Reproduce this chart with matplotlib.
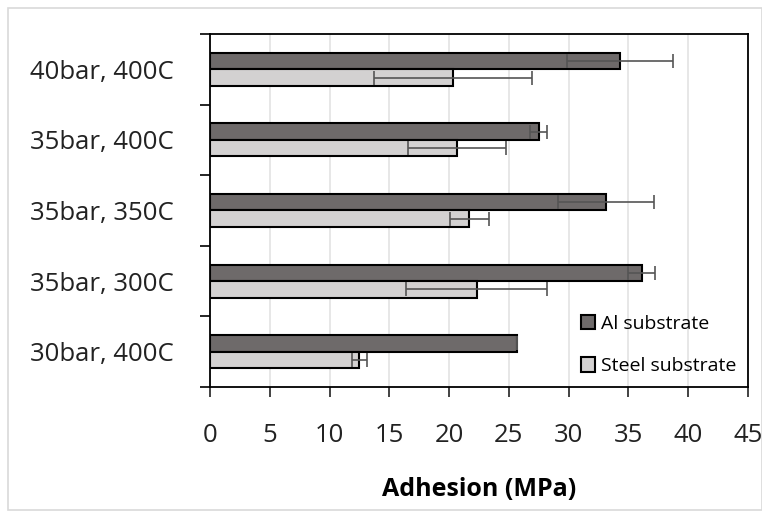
import matplotlib
matplotlib.use('Agg')
import matplotlib.pyplot as plt
from matplotlib.patches import Rectangle
import numpy as np

plt.rcParams['font.family'] = ['Open Sans', 'DejaVu Sans']

# bottom to top
conditions = ['30bar, 400C', '35bar, 300C', '35bar, 350C', '35bar, 400C', '40bar, 400C']
al_mean = [25.7, 36.1, 33.1, 27.5, 34.3]
al_err = [0.0, 1.1, 4.0, 0.7, 4.4]
steel_mean = [12.5, 22.3, 21.7, 20.7, 20.3]
steel_err = [0.6, 5.9, 1.6, 4.1, 6.6]

fig = plt.figure(figsize=(7.62, 5.18), dpi=100)
ax = fig.add_axes([210/762, 1 - 387/518, 538/762, 353/518])

# light frame round the whole chart
fig.patches.append(Rectangle((8/762, 8/518), 0.99, 502/518, transform=fig.transFigure,
                             fill=False, edgecolor='#d9d9d9', linewidth=1.2))

y = np.arange(len(conditions))
h = 0.235
errkw = dict(ecolor='#555555', elinewidth=1.2, capsize=5, capthick=1.2)
ax.barh(y + h/2, al_mean, height=h, xerr=al_err, color='#6e6a6a', edgecolor='black',
        linewidth=1.5, error_kw=errkw, label='Al substrate', zorder=3)
ax.barh(y - h/2, steel_mean, height=h, xerr=steel_err, color='#d3d1d1', edgecolor='black',
        linewidth=1.5, error_kw=errkw, label='Steel substrate', zorder=3)

ax.set_xlim(0, 45)
ax.set_ylim(-0.5, len(conditions) - 0.5)
ax.set_xticks(np.arange(0, 46, 5))
ax.tick_params(axis='x', labelsize=18.5, direction='out', length=7, width=1.2, pad=19, colors='#222222')
ax.xaxis.grid(True, color='#e3e3e3', linewidth=1.2, zorder=0)
ax.set_axisbelow(True)

ax.set_yticks(y)
ax.set_yticklabels(conditions, fontsize=18.5, color='#222222')
ax.tick_params(axis='y', length=0, pad=26)
# separator ticks between categories
ax.set_yticks(np.arange(-0.5, len(conditions), 1.0), minor=True)
ax.tick_params(axis='y', which='minor', direction='out', length=7, width=1.2)

for s in ax.spines.values():
    s.set_linewidth(1.3)
    s.set_color('black')

ax.set_xlabel('Adhesion (MPa)', fontsize=18, fontweight='bold', labelpad=21)

leg = ax.legend(loc='lower right', bbox_to_anchor=(1.0, 0.0), frameon=False, fontsize=14,
                handlelength=0.75, handleheight=0.75, handletextpad=0.3, labelspacing=1.25,
                borderaxespad=0.2)

fig.savefig('out.png', dpi=100)
